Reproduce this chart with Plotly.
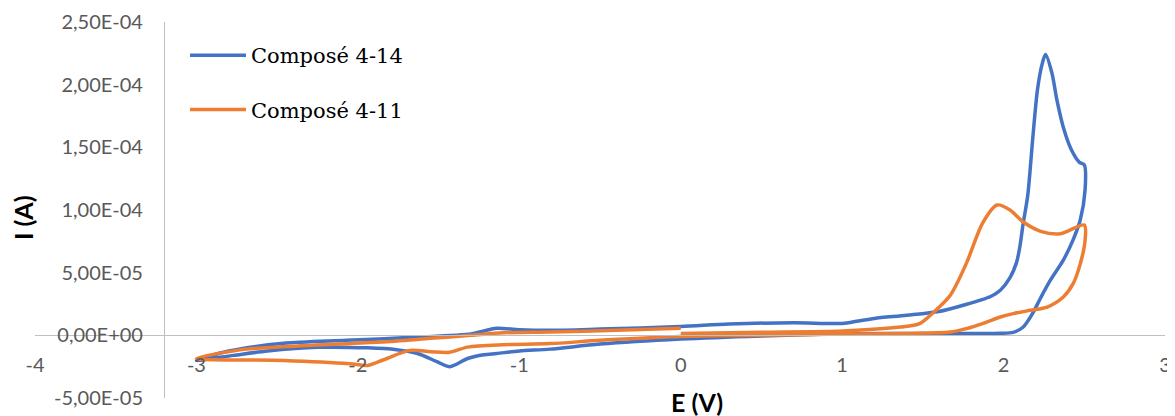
import plotly.graph_objects as go

# ---- data (E in V, I in A) ----
blue_name = "Composé 4-14"
blue_E = [0.0, 0.3, 0.7, 1.0, 1.1, 1.2, 1.4, 1.6, 1.75, 1.92, 1.98, 2.04, 2.08, 2.10, 2.12, 2.15, 2.18, 2.21, 2.24, 2.26, 2.30, 2.33, 2.37, 2.42, 2.47, 2.50,
          2.505, 2.475, 2.43, 2.37, 2.29, 2.23, 2.18, 2.12, 2.06, 1.98, 1.5, 1.0, 0.5, 0.0, -0.5, -0.81, -1.0, -1.14, -1.22, -1.32, -1.43, -1.51, -1.63, -1.76, -1.94, -2.25, -2.56, -2.77, -3.0,
          -2.8, -2.46, -2.07, -1.66, -1.3, -1.22, -1.14, -1.0, -0.81, -0.5, 0.0]
blue_I = [7e-6, 9e-6, 1.0e-5, 9.5e-6, 1.15e-5, 1.35e-5, 1.6e-5, 1.9e-5, 2.4e-5, 3.1e-5, 3.6e-5, 4.6e-5, 5.8e-5, 7.0e-5, 8.8e-5, 1.12e-4, 1.56e-4, 1.96e-4, 2.17e-4, 2.24e-4, 2.09e-4, 1.88e-4, 1.66e-4, 1.48e-4, 1.38e-4, 1.36e-4,
          1.16e-4, 9.2e-5, 7.6e-5, 6.0e-5, 4.4e-5, 3.0e-5, 1.76e-5, 6.4e-6, 2.4e-6, 1.6e-6, 1.5e-6, 1.2e-6, -0.5e-6, -3e-6, -7e-6, -1.1e-5, -1.25e-5, -1.45e-5, -1.55e-5, -1.85e-5, -2.5e-5, -2.1e-5, -1.45e-5, -1.15e-5, -1.0e-5, -9.6e-6, -1.25e-5, -1.6e-5, -2.0e-5,
          -1.25e-5, -6.4e-6, -4e-6, -1.6e-6, 1e-6, 3.5e-6, 5.6e-6, 4.5e-6, 4e-6, 5e-6, 7e-6]

orange_name = "Composé 4-11"
orange_E = [0.0, 0.5, 1.0, 1.36, 1.48, 1.56, 1.67, 1.77, 1.87, 1.96, 2.04, 2.12, 2.23, 2.35, 2.50,
            2.505, 2.475, 2.43, 2.37, 2.27, 2.165, 2.06, 1.98, 1.87, 1.77, 1.67, 1.36, 1.0, 0.5, 0.0, -0.5, -0.81, -1.1, -1.32, -1.43, -1.55, -1.68, -1.84, -1.94, -2.05, -2.46, -3.0,
            -2.69, -2.28, -1.86, -1.55, -1.3, -1.1, -0.81, -0.4, 0.0]
orange_I = [1.5e-6, 2.5e-6, 3.5e-6, 6.6e-6, 9.4e-6, 1.76e-5, 3.2e-5, 5.76e-5, 8.96e-5, 1.04e-4, 1.0e-4, 9.06e-5, 8.3e-5, 8.1e-5, 8.8e-5,
            7.6e-5, 5.7e-5, 4.1e-5, 3.06e-5, 2.26e-5, 2.0e-5, 1.73e-5, 1.46e-5, 9.4e-6, 5.4e-6, 2.6e-6, 1.4e-6, 1.0e-6, 0.0, -1e-6, -4e-6, -6.6e-6, -7.5e-6, -9.4e-6, -1.35e-5, -1.3e-5, -1.2e-5, -1.95e-5, -2.4e-5, -2.26e-5, -2.0e-5, -1.85e-5,
            -1.1e-5, -8e-6, -5.4e-6, -2.4e-6, 0.0, 2e-6, 2.6e-6, 4e-6, 5.6e-6]

x_ticks = [-4, -3, -2, -1, 0, 1, 2, 3]
x_ticktext = ["-4", "-3", "-2", "-1", "0", "1", "2", "3"]
y_ticks = [-5e-5, 0, 5e-5, 1e-4, 1.5e-4, 2e-4, 2.5e-4]
y_ticktext = ["-5,00E-05", "0,00E+00", "5,00E-05", "1,00E-04", "1,50E-04", "2,00E-04", "2,50E-04"]

x_range = [-4, 3]
y_range = [-5e-5, 2.5e-4]
y_axis_cross_x = -3.2

fig = go.Figure()
fig.add_trace(go.Scatter(x=blue_E, y=blue_I, name=blue_name, mode="lines",
                         line=dict(color="#4472C4", width=3.5, shape="spline", smoothing=0.8),
                         legendgroup="a"))
fig.add_trace(go.Scatter(x=orange_E, y=orange_I, name=orange_name, mode="lines",
                         line=dict(color="#ED7D31", width=3.5, shape="spline", smoothing=0.8),
                         legendgroup="b"))

# page has an 8px body margin: figure drawn 8px in from top/left
OFF = 8
FW, FH = 1175 - OFF, 416 - OFF
ML, MR, MT, MB = 35 - OFF, 10, 22 - OFF, 18
W, H = FW - ML - MR, FH - MT - MB


def px(x):
    return (x - OFF - ML) / W


def py(y):
    return (FH - MB - (y - OFF)) / H


tickfont = dict(family="Lato", size=20, color="#595959")
fig.update_layout(
    width=FW, height=FH,
    margin=dict(l=ML, r=MR, t=MT, b=MB, autoexpand=False),
    paper_bgcolor="white", plot_bgcolor="white",
    xaxis=dict(range=x_range, tickvals=x_ticks, ticktext=x_ticktext, anchor="free",
               position=(0 - y_range[0]) / (y_range[1] - y_range[0]), automargin=False,
               showline=True, linecolor="#BFBFBF", linewidth=1.3, showgrid=False, zeroline=False,
               ticks="", tickfont=tickfont, ticklabelstandoff=12),
    yaxis=dict(range=y_range, tickvals=y_ticks, ticktext=y_ticktext, anchor="free",
               position=(y_axis_cross_x - x_range[0]) / (x_range[1] - x_range[0]), automargin=False,
               showline=True, linecolor="#BFBFBF", linewidth=1.3, showgrid=False, zeroline=False,
               ticks="", tickfont=tickfont, ticklabelstandoff=17),
    showlegend=True,
    legend=dict(x=px(185), y=py(35), xanchor="left", yanchor="top",
                font=dict(family="DejaVu Serif", size=21, color="black"),
                traceorder="grouped", tracegroupgap=24, itemwidth=56,
                bgcolor="rgba(0,0,0,0)"),
    annotations=[
        dict(text="<b>E (V)</b>", x=px(697), y=py(402), xref="paper", yref="paper",
             xanchor="center", yanchor="middle",
             showarrow=False, font=dict(family="Lato", size=25, color="black")),
        dict(text="<b>I (A)</b>", x=px(23), y=py(218), xref="paper", yref="paper",
             xanchor="center", yanchor="middle",
             showarrow=False, textangle=-90, font=dict(family="Lato", size=25, color="black")),
    ],
)

fig.write_html("out.html")
